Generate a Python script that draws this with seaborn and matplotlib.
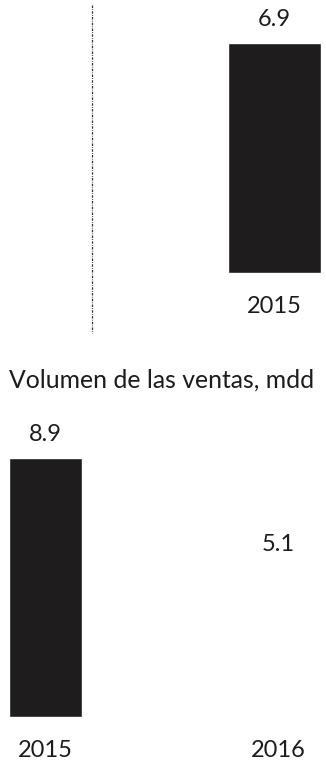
import matplotlib
matplotlib.use("Agg")
import matplotlib.pyplot as plt
import seaborn as sns
import pandas as pd

# Data
top_years = ["2015"]
top_values = [6.9]
bottom_years = ["2015", "2016"]
bottom_values = [8.9, 5.1]
title = "Volumen de las ventas, mdd"

sns.set_style("white")
plt.rcParams["font.family"] = ["Lato", "DejaVu Sans"]

W, H = 326, 761
fig = plt.figure(figsize=(W / 100, H / 100), dpi=100)
fig.patch.set_facecolor("white")

bar_color = "#1f1c1d"
text_color = "#1c1c1c"
fs = 17

# Upper panel
ax1 = fig.add_axes([0, 488 / H, 1, 273 / H])
df1 = pd.DataFrame({"year": top_years, "value": top_values})
sns.barplot(data=df1, x="year", y="value", color=bar_color, width=0.8,
            saturation=1, ax=ax1)
ax1.set_xlim(-274.5 / 116.25, 51.5 / 116.25)
ax1.set_ylim(0, 273 / 33.33)
ax1.bar_label(ax1.containers[0], fmt="%.1f", padding=9.5, fontsize=fs,
              color=text_color)
ax1.plot([-1.570, -1.570], [8.04, -1.8], color="#333333", lw=0.9,
         ls=(0, (2, 1, 0.6, 1)), clip_on=False)

# Lower panel
ax2 = fig.add_axes([0, 44 / H, 1, 317 / H])
df2 = pd.DataFrame({"year": bottom_years, "value": bottom_values})
sns.barplot(data=df2, x="year", y="value", hue="year",
            palette=[bar_color, "white"], width=0.314, saturation=1,
            legend=False, ax=ax2)
ax2.set_xlim(-45.5 / 232.5, (W - 45.5) / 232.5)
ax2.set_ylim(0, 317 / 29.1)
for c in ax2.containers:
    ax2.bar_label(c, fmt="%.1f", padding=9.5, fontsize=fs, color=text_color)

for ax in (ax1, ax2):
    ax.set_xlabel("")
    ax.set_ylabel("")
    ax.set_yticks([])
    ax.tick_params(axis="x", length=0, pad=16.5, labelsize=fs,
                   labelcolor=text_color)
    for s in ax.spines.values():
        s.set_visible(False)
    ax.patch.set_alpha(0)

fig.text(161.5 / W, 1 - 380 / H, title, ha="center", va="center",
         fontsize=17.8, color=text_color)

fig.savefig("out.png", dpi=100, facecolor="white")
